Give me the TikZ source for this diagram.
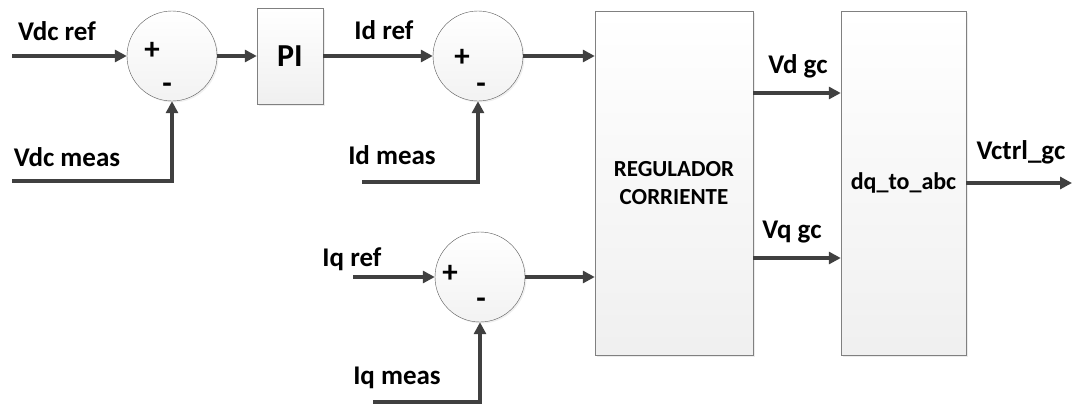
\documentclass[tikz,border=0pt]{standalone}
\usepackage{fontspec}
\setmainfont{Carlito}
\usetikzlibrary{arrows.meta, positioning, shadows}
\definecolor{wiregray}{rgb}{0.25, 0.25, 0.25}
\definecolor{edgegray}{rgb}{0.5, 0.5, 0.5}

\begin{document}
\begin{tikzpicture}[x=1pt, y=-1pt, font=\bfseries\fontsize{27}{29}\selectfont,
	sumnode/.style={circle, draw=black!65, thin, minimum size=90pt, inner sep=0pt, top color=white, bottom color=gray!10, drop shadow={shadow xshift=1.5pt, shadow yshift=-1.5pt, opacity=0.12}},
	blockbox/.style={draw=edgegray, thin, inner sep=0pt, top color=white, bottom color=gray!12, drop shadow={shadow xshift=2pt, shadow yshift=-2pt, opacity=0.15}},
	signal/.style={draw=wiregray, line width=3.5pt, -{Triangle[length=12pt, width=12pt]}},
	signlabel/.style={inner sep=0pt, font=\bfseries\fontsize{31}{31}\selectfont}]
		\useasboundingbox (0,0) rectangle (1076,405);
		% summing junctions
		\node [sumnode] (s1) at (172,56) {};
		\node [sumnode] (s2) at (478,56) {};
		\node [sumnode] (s3) at (480,277) {};
		\node [signlabel] (p1) at (152,51) {+};
		\node [signlabel] (m1) at (167,88) {-};
		\node [signlabel] (p2) at (462,58) {+};
		\node [signlabel] (m2) at (481,88) {-};
		\node [signlabel] (p3) at (450,274) {+};
		\node [signlabel] (m3) at (481,303) {-};
		% blocks
		\node [blockbox, minimum width=66pt, minimum height=96pt, font=\bfseries\fontsize{32}{34}\selectfont] (pi) at (290,56) {PI};
		\node [blockbox, minimum width=158pt, minimum height=344pt, align=center, font=\bfseries\fontsize{23}{28}\selectfont] (reg) at (674,183) {REGULADOR\\CORRIENTE};
		\node [blockbox, minimum width=125pt, minimum height=344pt, font=\bfseries\fontsize{24}{26}\selectfont] (dq) at (903.5,183) {dq\_to\_abc};
		% free ends
		\coordinate (vdcref) at (12,56);
		\coordinate (vdcmeas) at (12,181);
		\coordinate (idmeas) at (362,182);
		\coordinate (iqref) at (353,277);
		\coordinate (iqmeas) at (373,402);
		\coordinate (vout) at (1072,183);
		\coordinate (rowd) at (0,93);
		\coordinate (rowq) at (0,258);
		% connectors
		\draw [signal] (vdcref) -- (s1.west);
		\draw [signal] (vdcmeas) -| (s1.south);
		\draw [signal] (s1.east) -- (pi.west);
		\draw [signal] (pi.east) -- (s2.west);
		\draw [signal] (idmeas) -| (s2.south);
		\draw [signal] (s2.east) -- (s2.east -| reg.west);
		\draw [signal] (iqref) -- (s3.west);
		\draw [signal] (iqmeas) -| (s3.south);
		\draw [signal] (s3.east) -- (s3.east -| reg.west);
		\draw [signal] (reg.east |- rowd) -- (dq.west |- rowd);
		\draw [signal] (reg.east |- rowq) -- (dq.west |- rowq);
		\draw [signal] (dq.east) -- (vout);
		% labels
		\node (lvdcref) at (57,31) {Vdc ref};
		\node (lvdcmeas) at (67,157) {Vdc meas};
		\node (lidref) at (384,30) {Id ref};
		\node (lidmeas) at (392,155) {Id meas};
		\node (liqref) at (352,259) {Iq ref};
		\node (liqmeas) at (397,378) {Iq meas};
		\node (lvd) at (798,66) {Vd gc};
		\node (lvq) at (792,232) {Vq gc};
		\node (lvout) at (1021,152) {Vctrl\_gc};
	\end{tikzpicture}
\end{document}
